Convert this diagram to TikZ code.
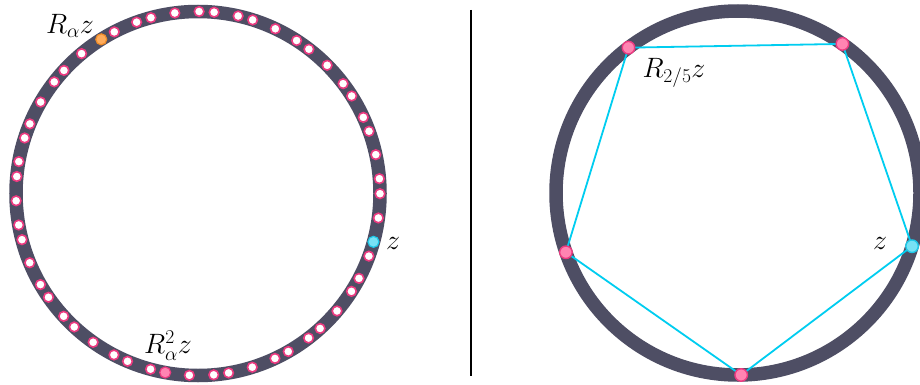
\RequirePackage{fix-cm}
\documentclass[tikz,border=0pt]{standalone}
\usepackage{amsmath}
\definecolor{ringc}{RGB}{78,78,100}
\definecolor{pinkline}{RGB}{236,58,128}
\definecolor{pinkfill}{RGB}{255,132,178}
\definecolor{orfill}{RGB}{255,172,92}
\definecolor{orline}{RGB}{240,140,40}
\definecolor{cyfill}{RGB}{120,226,245}
\definecolor{cyline}{RGB}{30,200,232}
\definecolor{pentc}{RGB}{0,205,240}
\tikzset{
  ring/.style={draw=ringc, line width=13.5pt},
  wdot/.style={circle, draw=pinkline, fill=white, line width=1.6pt, minimum size=9.6pt, inner sep=0pt},
  odot/.style={circle, draw=orline, fill=orfill, line width=1.2pt, minimum size=11pt, inner sep=0pt},
  cdot/.style={circle, draw=cyline, fill=cyfill, line width=1.2pt, minimum size=11pt, inner sep=0pt},
  pdot/.style={circle, draw=pinkline, fill=pinkfill, line width=1.2pt, minimum size=11pt, inner sep=0pt},
  bpdot/.style={circle, draw=pinkline, fill=pinkfill, line width=1.4pt, minimum size=12.5pt, inner sep=0pt},
  bcdot/.style={circle, draw=cyline, fill=cyfill, line width=1.4pt, minimum size=12.5pt, inner sep=0pt},
  pent/.style={draw=pentc, line width=1.8pt, line join=round},
  lab/.style={inner sep=0pt, font=\fontsize{28}{33}\selectfont},
  divider/.style={draw=black, line width=1.2pt}
}
\begin{document}
\begin{tikzpicture}[x=1pt,y=-1pt]
\useasboundingbox (0,0) rectangle (920,385);
\clip (0,0) rectangle (920,385);
\fill[white] (0,0) rectangle (920,385);
% ---------- left circle ----------
\def\cxL{198}\def\cyL{193.5}\def\rL{182}\def\aL{-15.4}
\draw[ring] (\cxL,\cyL) circle[radius=\rL];
\foreach \k in {3,...,54}{
  \pgfmathsetmacro\ang{\aL+\k*137.508}
  \node[wdot] (L\k) at ({\cxL+\rL*cos(\ang)},{\cyL-\rL*sin(\ang)}) {};
}
\pgfmathsetmacro\angA{\aL}
\pgfmathsetmacro\angB{\aL+137.508}
\pgfmathsetmacro\angC{\aL+2*137.508}
\node[cdot] (L0) at ({\cxL+\rL*cos(\angA)},{\cyL-\rL*sin(\angA)}) {};
\node[odot] (L1) at ({\cxL+\rL*cos(\angB)},{\cyL-\rL*sin(\angB)}) {};
\node[pdot] (L2) at ({\cxL+\rL*cos(\angC)},{\cyL-\rL*sin(\angC)}) {};
\node[lab] (labRz) at (70,26) {$R_\alpha z$};
\node[lab] (labR2z) at (168,346) {$R_\alpha^2 z$};
\node[lab] (labzL) at (393,243) {$z$};
% ---------- divider ----------
\coordinate (dtop) at (471,10);
\coordinate (dbot) at (471,376);
\draw[divider] (dtop) -- (dbot);
% ---------- right circle ----------
\def\cxR{738}\def\cyR{193}\def\rR{182}\def\aR{-17}
\draw[ring] (\cxR,\cyR) circle[radius=\rR];
\foreach \i in {0,...,4}{
  \pgfmathsetmacro\ang{\aR+\i*72}
  \coordinate (P\i) at ({\cxR+\rR*cos(\ang)},{\cyR-\rR*sin(\ang)});
}
\draw[pent] (P0) -- (P1) -- (P2) -- (P3) -- (P4) -- cycle;
\node[bcdot] (R0) at (P0) {};
\node[bpdot] (R1) at (P1) {};
\node[bpdot] (R2) at (P2) {};
\node[bpdot] (R3) at (P3) {};
\node[bpdot] (R4) at (P4) {};
\node[lab] (labR25) at (674,73) {$R_{2/5}z$};
\node[lab] (labzR) at (880,243) {$z$};
\end{tikzpicture}
\end{document}
